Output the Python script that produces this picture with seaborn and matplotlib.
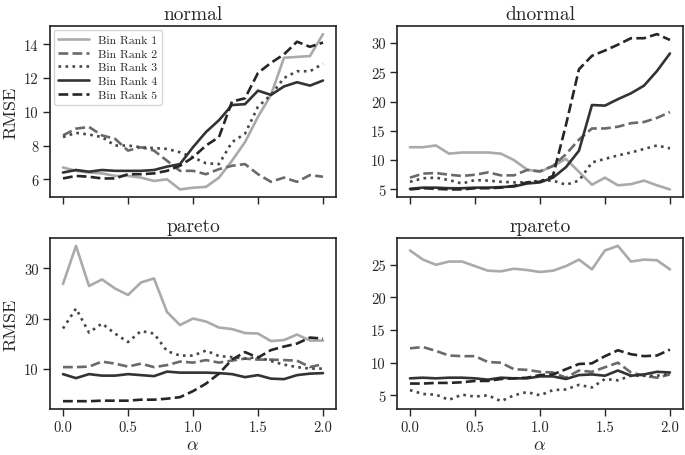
import numpy as np
import pandas as pd
import matplotlib
matplotlib.use("Agg")
import matplotlib.pyplot as plt
import seaborn as sns

alpha = [round(0.1 * i, 1) for i in range(21)]
bins = ["Bin Rank 1", "Bin Rank 2", "Bin Rank 3", "Bin Rank 4", "Bin Rank 5"]
panels = ["normal", "dnormal", "pareto", "rpareto"]
x_ticks = [0.0, 0.5, 1.0, 1.5, 2.0]
y_ticks = {
    "normal": [6, 8, 10, 12, 14],
    "dnormal": [5, 10, 15, 20, 25, 30],
    "pareto": [10, 20, 30],
    "rpareto": [5, 10, 15, 20, 25],
}

normal_r1 = [6.7, 6.5, 6.4, 6.35, 6.2, 6.2, 6.1, 5.9, 6.0, 5.4, 5.5, 5.55, 6.1, 7.1, 8.2, 9.7, 11.0, 13.2, 13.25, 13.3, 14.6]
normal_r2 = [8.6, 9.0, 9.1, 8.6, 8.4, 7.7, 7.9, 7.7, 7.1, 6.5, 6.5, 6.3, 6.6, 6.8, 6.9, 6.3, 5.85, 6.1, 5.85, 6.25, 6.15]
normal_r3 = [8.5, 8.75, 8.65, 8.5, 8.0, 8.0, 7.9, 7.85, 7.8, 7.6, 7.3, 6.95, 6.9, 8.2, 8.7, 10.3, 11.0, 12.0, 12.4, 12.4, 12.85]
normal_r4 = [6.4, 6.55, 6.45, 6.55, 6.5, 6.5, 6.5, 6.55, 6.75, 6.9, 7.9, 8.8, 9.5, 10.4, 10.45, 11.25, 11.0, 11.5, 11.75, 11.55, 11.85]
normal_r5 = [6.05, 6.2, 6.15, 6.05, 6.05, 6.3, 6.3, 6.35, 6.5, 6.8, 7.3, 8.0, 8.5, 10.6, 10.8, 12.3, 12.9, 13.4, 14.15, 13.85, 14.1]

dnormal_r1 = [12.2, 12.2, 12.5, 11.1, 11.3, 11.3, 11.3, 11.1, 10.0, 8.4, 8.0, 9.0, 10.2, 8.0, 5.8, 7.0, 5.7, 5.9, 6.5, 5.7, 5.0]
dnormal_r2 = [7.0, 7.7, 7.8, 7.5, 7.3, 7.5, 7.9, 7.4, 7.4, 8.3, 8.1, 9.0, 11.0, 13.5, 15.4, 15.4, 15.7, 16.3, 16.5, 17.2, 18.2]
dnormal_r3 = [6.3, 6.9, 7.0, 6.6, 6.0, 6.6, 6.5, 6.3, 6.2, 6.2, 6.5, 6.5, 5.8, 6.5, 9.6, 10.2, 10.8, 11.3, 11.9, 12.5, 12.0]
dnormal_r4 = [5.1, 5.3, 5.3, 5.2, 5.2, 5.3, 5.3, 5.4, 5.5, 6.0, 6.2, 7.0, 8.8, 11.6, 19.4, 19.3, 20.4, 21.4, 22.7, 25.2, 28.2]
dnormal_r5 = [5.0, 5.2, 5.1, 5.0, 5.0, 5.2, 5.2, 5.3, 5.6, 6.2, 6.3, 7.3, 16.0, 25.5, 27.8, 28.7, 29.7, 30.8, 30.8, 31.5, 30.5]

pareto_r1 = [26.9, 34.5, 26.5, 27.8, 26.0, 24.7, 27.2, 28.0, 21.3, 18.7, 20.0, 19.4, 18.2, 17.9, 17.1, 17.0, 15.5, 15.7, 16.8, 15.6, 15.6]
pareto_r2 = [10.3, 10.3, 10.4, 11.4, 11.0, 10.4, 11.0, 10.3, 10.7, 11.4, 11.2, 11.7, 11.2, 11.6, 12.0, 11.8, 11.8, 11.7, 11.6, 10.3, 10.9]
pareto_r3 = [18.0, 22.0, 17.2, 19.0, 17.0, 15.3, 17.5, 17.0, 13.5, 12.6, 12.6, 13.6, 12.5, 12.3, 12.0, 12.3, 11.5, 10.8, 10.3, 10.0, 10.0]
pareto_r4 = [8.9, 8.1, 8.9, 8.6, 8.6, 8.9, 8.7, 8.5, 9.4, 9.2, 9.2, 9.2, 9.1, 8.9, 8.3, 8.7, 8.0, 7.9, 8.7, 9.0, 9.1]
pareto_r5 = [3.5, 3.5, 3.5, 3.6, 3.6, 3.6, 3.8, 3.8, 4.0, 4.3, 5.5, 7.0, 9.0, 11.8, 13.3, 12.2, 13.7, 14.4, 15.0, 16.2, 16.0]

rpareto_r1 = [27.2, 25.8, 25.0, 25.5, 25.5, 24.8, 24.1, 24.0, 24.4, 24.2, 23.9, 24.1, 24.8, 25.8, 24.3, 27.2, 27.9, 25.5, 25.8, 25.7, 24.3]
rpareto_r2 = [12.2, 12.4, 11.8, 11.1, 11.0, 11.0, 10.1, 10.0, 9.0, 8.9, 8.6, 8.5, 7.7, 8.8, 8.6, 9.3, 10.0, 8.5, 8.0, 7.7, 8.2]
rpareto_r3 = [5.8, 5.2, 5.1, 4.3, 5.1, 4.8, 5.0, 4.1, 5.0, 5.5, 5.0, 5.8, 5.9, 6.6, 6.2, 7.5, 7.3, 8.0, 8.0, 8.0, 8.3]
rpareto_r4 = [7.6, 7.7, 7.6, 7.7, 7.7, 7.6, 7.4, 7.7, 7.6, 7.6, 7.9, 7.9, 7.5, 8.1, 8.2, 8.0, 8.8, 8.0, 8.2, 8.6, 8.5]
rpareto_r5 = [6.8, 6.8, 6.9, 6.9, 7.0, 7.2, 7.2, 7.5, 7.6, 7.7, 8.1, 8.2, 9.0, 9.8, 9.9, 11.0, 11.9, 11.3, 11.0, 11.1, 12.0]

series = {
    "normal": [normal_r1, normal_r2, normal_r3, normal_r4, normal_r5],
    "dnormal": [dnormal_r1, dnormal_r2, dnormal_r3, dnormal_r4, dnormal_r5],
    "pareto": [pareto_r1, pareto_r2, pareto_r3, pareto_r4, pareto_r5],
    "rpareto": [rpareto_r1, rpareto_r2, rpareto_r3, rpareto_r4, rpareto_r5],
}

sns.set_theme(style="ticks")
plt.rcParams["font.family"] = ["serif"]
plt.rcParams["font.serif"] = ["cmr10", "DejaVu Serif"]
plt.rcParams["mathtext.fontset"] = "cm"
plt.rcParams["axes.formatter.use_mathtext"] = True
plt.rcParams["axes.unicode_minus"] = False

palette = dict(zip(bins, ["#aaaaaa", "#6a6a6a", "#474747", "#333333", "#262626"]))
dashes = dict(zip(bins, ["", (3.7, 1.6), (1, 1.65), "", (3.7, 1.6)]))

fig, axes = plt.subplots(2, 2, figsize=(6.85, 4.56), dpi=100, sharex=True)
fig.subplots_adjust(left=0.073, right=0.997, top=0.94, bottom=0.101,
                    wspace=61 / 286, hspace=41 / 171)

for ax, name in zip(axes.flat, panels):
    rows = []
    for b, vals in zip(bins, series[name]):
        for a, v in zip(alpha, vals):
            rows.append({"alpha": a, "RMSE": v, "Bin": b})
    df = pd.DataFrame(rows)
    sns.lineplot(data=df, x="alpha", y="RMSE", hue="Bin", style="Bin",
                 palette=palette, dashes=dashes, linewidth=1.9, ax=ax,
                 legend=(name == "normal"))
    ax.set_title(name, fontsize=14, pad=5)
    ax.tick_params(labelsize=10.5, length=5, width=1, pad=3)
    for s in ax.spines.values():
        s.set_linewidth(1.2)
        s.set_color("#222222")
    ax.set_xlabel("")
    ax.set_ylabel("")
    ax.set_xticks(x_ticks)
    ax.set_yticks(y_ticks[name])
    ax.set_yticklabels([str(t) for t in y_ticks[name]])

axes[0, 0].set_ylabel("RMSE", fontsize=13, labelpad=4)
axes[1, 0].set_ylabel("RMSE", fontsize=13, labelpad=4)
axes[1, 0].set_xlabel(r"$\alpha$", fontsize=13, labelpad=2)
axes[1, 1].set_xlabel(r"$\alpha$", fontsize=13, labelpad=2)
for ax in axes[1]:
    ax.set_xticklabels(["0.0", "0.5", "1.0", "1.5", "2.0"])

leg = axes[0, 0].legend(loc="upper left", fontsize=8.5, title=None,
                        handlelength=2.6, borderaxespad=0.3, labelspacing=0.3,
                        frameon=True)

fig.savefig("out.png", dpi=100)
